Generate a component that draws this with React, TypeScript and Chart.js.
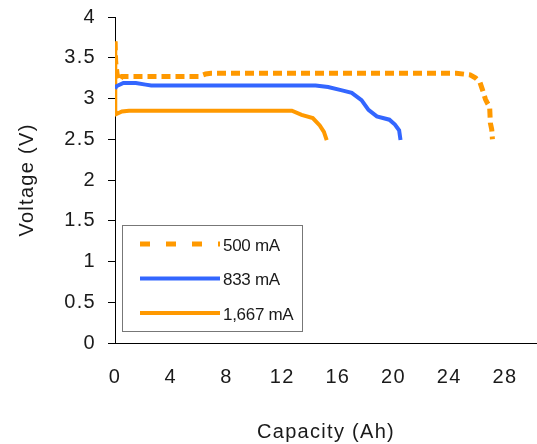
import React, { useEffect, useRef } from 'react';
import { Chart, registerables } from 'chart.js';

Chart.register(...registerables);

const seriesLabels = ['500 mA', '833 mA', '1,667 mA'];

const cap500 = [0, 0.05, 0.15, 0.3, 0.5, 6.0, 6.5, 6.9, 24.5, 25.5, 25.9, 26.2, 26.4, 26.6, 26.75, 26.9, 26.95, 27.05, 27.1];
const volt500 = [3.7, 3.45, 3.3, 3.22, 3.27, 3.27, 3.3, 3.31, 3.31, 3.29, 3.25, 3.2, 3.1, 2.99, 2.94, 2.9, 2.7, 2.62, 2.5];

const cap833 = [0, 0.1, 0.6, 1.5, 2.2, 2.6, 14.4, 15.3, 16.3, 17.0, 17.7, 18.2, 18.8, 19.7, 20.1, 20.4, 20.5];
const volt833 = [3.12, 3.15, 3.19, 3.19, 3.17, 3.16, 3.16, 3.14, 3.1, 3.07, 2.98, 2.86, 2.78, 2.74, 2.68, 2.61, 2.49];

const cap1667 = [0, 0.02, 0.1, 0.5, 1.0, 12.7, 13.4, 14.2, 14.7, 15.0, 15.2];
const volt1667 = [3.7, 2.85, 2.81, 2.84, 2.85, 2.85, 2.8, 2.76, 2.67, 2.59, 2.49];

const xTickValues = [0, 4, 8, 12, 16, 20, 24, 28];
const yTickValues = [0, 0.5, 1, 1.5, 2, 2.5, 3, 3.5, 4];

const ORANGE = 'rgb(255,153,0)';
const BLUE = 'rgb(51,102,255)';
const TEXT = '#1a1a1a';
const FONT = 'Liberation Sans';

const toPoints = (xs: number[], ys: number[]) => xs.map((x, i) => ({ x, y: ys[i] }));

export default function App() {
  const ref = useRef<HTMLCanvasElement>(null);

  useEffect(() => {
    document.body.style.margin = '0';
    const canvas = ref.current!;

    const spacingPlugin = {
      id: 'spacing',
      beforeDraw(chart: any) {
        (chart.ctx as any).letterSpacing = '1.3px';
      },
    };

    const legendPlugin = {
      id: 'boxLegend',
      afterDraw(chart: any) {
        const ctx = chart.ctx as CanvasRenderingContext2D;
        ctx.save();
        (ctx as any).letterSpacing = '-0.3px';
        ctx.fillStyle = '#fff';
        ctx.fillRect(122.5, 225.5, 180, 106);
        ctx.strokeStyle = '#777';
        ctx.lineWidth = 1;
        ctx.strokeRect(122.5, 225.5, 180, 106);
        const rows = [244, 278.5, 313];
        chart.data.datasets.forEach((ds: any, i: number) => {
          const y = rows[i];
          ctx.beginPath();
          ctx.strokeStyle = ds.borderColor;
          ctx.lineWidth = ds.borderWidth;
          ctx.lineCap = 'butt';
          ctx.setLineDash(ds.borderDash && ds.borderDash.length ? [10, 16] : []);
          ctx.moveTo(140, y);
          ctx.lineTo(220, y);
          ctx.stroke();
          ctx.setLineDash([]);
          ctx.fillStyle = TEXT;
          ctx.font = `17px "${FONT}"`;
          ctx.textAlign = 'left';
          ctx.textBaseline = 'middle';
          ctx.fillText(ds.label, 223, y + 2);
        });
        ctx.restore();
      },
    };

    const chart = new Chart(canvas, {
      type: 'line',
      data: {
        datasets: [
          {
            label: seriesLabels[0],
            data: toPoints(cap500, volt500),
            borderColor: ORANGE,
            borderWidth: 5,
            borderDash: [9, 5],
            pointRadius: 0,
            tension: 0,
            fill: false,
          },
          {
            label: seriesLabels[1],
            data: toPoints(cap833, volt833),
            borderColor: BLUE,
            borderWidth: 4,
            pointRadius: 0,
            tension: 0,
            fill: false,
          },
          {
            label: seriesLabels[2],
            data: toPoints(cap1667, volt1667),
            borderColor: ORANGE,
            borderWidth: 4,
            pointRadius: 0,
            tension: 0,
            fill: false,
          },
        ],
      },
      options: {
        responsive: false,
        animation: false,
        devicePixelRatio: 1,
        layout: { padding: { top: 17, right: 0, left: 0, bottom: 0 } },
        plugins: {
          legend: { display: false },
          tooltip: { enabled: false },
        },
        scales: {
          x: {
            type: 'linear',
            min: 0,
            max: 30.3,
            afterBuildTicks: (scale: any) => {
              scale.ticks = xTickValues.map((v) => ({ value: v }));
            },
            afterFit: (scale: any) => {
              scale.height = 101;
              scale.paddingLeft = 0;
              scale.paddingRight = 0;
            },
            grid: { display: false, drawTicks: false, drawOnChartArea: false },
            border: { display: true, color: '#000', width: 1 },
            ticks: {
              padding: 22,
              color: TEXT,
              font: { family: FONT, size: 20 },
              maxRotation: 0,
              autoSkip: false,
              callback: (v: any) => String(v),
            },
            title: {
              display: true,
              text: 'Capacity (Ah)',
              color: TEXT,
              font: { family: FONT, size: 20 },
              padding: { top: 0, bottom: 0 },
            },
          },
          y: {
            type: 'linear',
            min: 0,
            max: 4,
            afterBuildTicks: (scale: any) => {
              scale.ticks = yTickValues.map((v) => ({ value: v }));
            },
            afterFit: (scale: any) => {
              scale.width = 115;
              scale.paddingTop = 0;
              scale.paddingBottom = 0;
            },
            grid: {
              display: true,
              drawOnChartArea: false,
              drawTicks: true,
              tickLength: 7,
              color: '#000',
              lineWidth: 1,
            },
            border: { display: true, color: '#000', width: 1 },
            ticks: {
              padding: 12,
              color: TEXT,
              font: { family: FONT, size: 20 },
              autoSkip: false,
              callback: (v: any) => String(v),
            },
            title: {
              display: true,
              text: 'Voltage (V)',
              color: TEXT,
              font: { family: FONT, size: 20 },
              padding: { top: 15, bottom: 0 },
            },
          },
        },
      },
      plugins: [spacingPlugin, legendPlugin],
    } as any);

    return () => chart.destroy();
  }, []);

  return (
    <div style={{ width: 537, height: 444, position: 'relative' }}>
      <canvas ref={ref} width={537} height={444} style={{ display: 'block' }} />
    </div>
  );
}
